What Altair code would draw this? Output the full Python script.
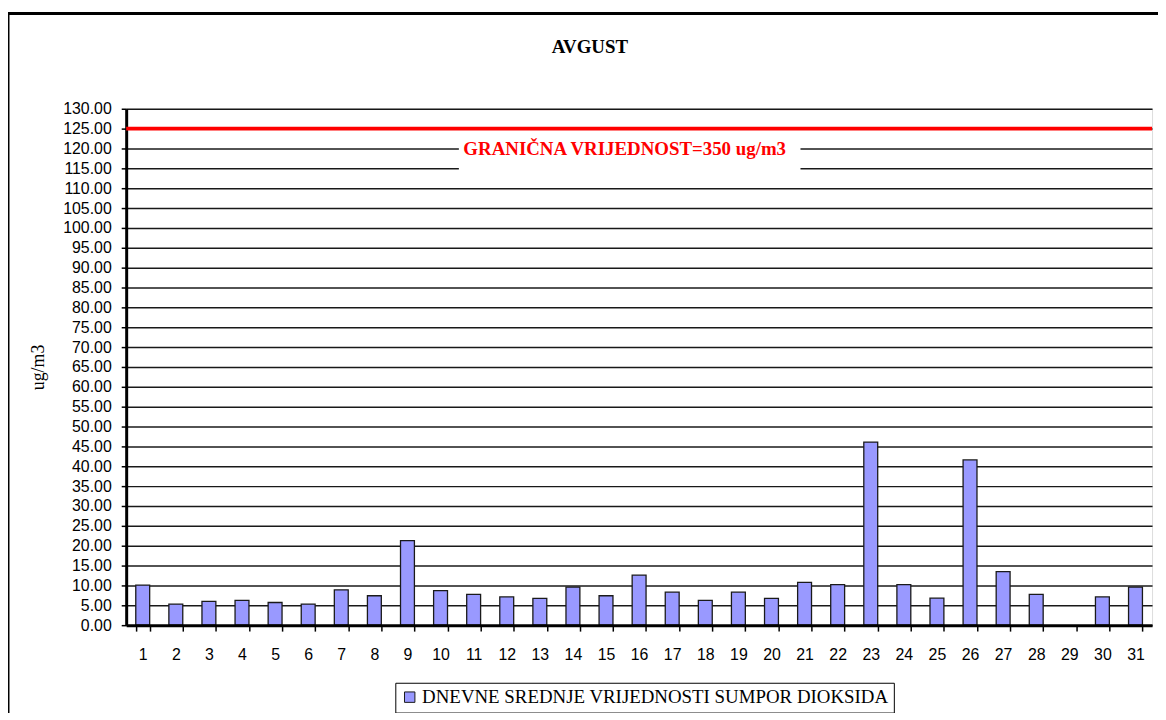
import altair as alt
import pandas as pd

# ---- data ----
days = [str(d) for d in range(1, 32)]
values = [10.1, 5.3, 6.0, 6.25, 5.7, 5.3, 8.9, 7.4, 21.3, 8.7,
          7.75, 7.1, 6.75, 9.6, 7.4, 12.6, 8.3, 6.25, 8.3, 6.75,
          10.75, 10.2, 46.1, 10.2, 6.8, 41.6, 13.5, 7.75, None, 7.1, 9.6]
series_name = "DNEVNE SREDNJE VRIJEDNOSTI SUMPOR DIOKSIDA"
chart_title = "AVGUST"
y_title = "ug/m3"
limit_value = [125]
limit_label = ["GRANIČNA VRIJEDNOST=350 ug/m3"]
label_pos = [119.75]
label_box_top = [122.5]
label_box_bottom = [114.6]
y_ticks = list(range(0, 131, 5))

df = pd.DataFrame({"day": days, "value": values, "series": [series_name] * len(days)})
limit_df = pd.DataFrame({"limit": limit_value, "label": limit_label, "pos": label_pos,
                         "top": label_box_top, "bottom": label_box_bottom,
                         "title": [chart_title]})

W, H = 1033, 520
SERIF = "Liberation Serif"
SANS = "Liberation Sans"

y_scale = alt.Scale(domain=[0, 130], nice=False)
y_axis = alt.Axis(values=y_ticks, format=".2f", title=y_title, labelOverlap=False,
                  titleFont=SERIF, titleFontSize=18, titleFontWeight="normal",
                  titleColor="#000000", titleX=-79,
                  labelFont=SANS, labelFontSize=16, labelColor="#000000",
                  labelPadding=10, tickSize=5, tickColor="#000000", tickWidth=1.5,
                  domainColor="#000000", domainWidth=3,
                  grid=True, gridColor="#000000", gridWidth=1.5, gridOpacity=0.9)

bars = alt.Chart(df).mark_bar(stroke="#1a1a1a", strokeWidth=1.3).encode(
    x=alt.X("day:O", sort=days,
            scale=alt.Scale(paddingInner=0.58, paddingOuter=0.29),
            axis=alt.Axis(title=None, labelAngle=0, labelFont=SANS, labelFontSize=16,
                          labelColor="#000000", tickBand="extent", tickSize=6,
                          tickColor="#000000", tickWidth=1.5, labelPadding=16,
                          domainColor="#000000", domainWidth=3, zindex=1)),
    y=alt.Y("value:Q", scale=y_scale, axis=y_axis),
    color=alt.Color("series:N", scale=alt.Scale(range=["#9999FF"]),
                    legend=alt.Legend(title=None, orient="none", legendX=271, legendY=578,
                                      strokeColor="#000000", fillColor="#FFFFFF",
                                      padding=5, symbolType="square", symbolSize=110,
                                      symbolStrokeColor="#1a1a1a", symbolStrokeWidth=1,
                                      labelFont=SERIF, labelFontSize=19, labelColor="#000000",
                                      labelOffset=3, labelLimit=800)),
)

dec = alt.Chart(limit_df)

limit_rule = dec.mark_rule(color="#FF0000", strokeWidth=4).encode(
    y=alt.Y("limit:Q", scale=y_scale, axis=y_axis)
)

label_box = dec.mark_rect(fill="#FFFFFF").encode(
    x=alt.value(335), x2=alt.value(679),
    y=alt.Y("top:Q", scale=y_scale, axis=y_axis), y2="bottom:Q"
)

label_text = dec.mark_text(color="#FF0000", font=SERIF, fontSize=19, fontWeight="bold",
                           align="center", baseline="middle").encode(
    x=alt.value(502), y=alt.Y("pos:Q", scale=y_scale, axis=y_axis), text="label:N"
)

title_text = dec.mark_text(color="#000000", font=SERIF, fontSize=19, fontWeight="bold",
                           align="center", baseline="middle").encode(
    x=alt.value(467), y=alt.value(-62), text="title:N"
)

frame_left = dec.mark_rule(color="#000000", strokeWidth=3).encode(
    x=alt.value(-119), y=alt.value(-96), y2=alt.value(610)
)
frame_top = dec.mark_rule(color="#000000", strokeWidth=3).encode(
    x=alt.value(-119), x2=alt.value(1040), y=alt.value(-96)
)

chart = alt.layer(bars, limit_rule, label_box, label_text, title_text,
                  frame_left, frame_top).properties(
    width=W, height=H,
    autosize=alt.AutoSizeParams(type="none"),
    padding={"left": 119, "top": 99, "right": 6, "bottom": 86},
).configure_view(stroke="#000000", strokeWidth=2
).configure_legend(labelFont=SERIF, labelFontSize=19
).configure(background="#FFFFFF")

chart.save("out.html", embed_options={"renderer": "svg", "actions": False})
